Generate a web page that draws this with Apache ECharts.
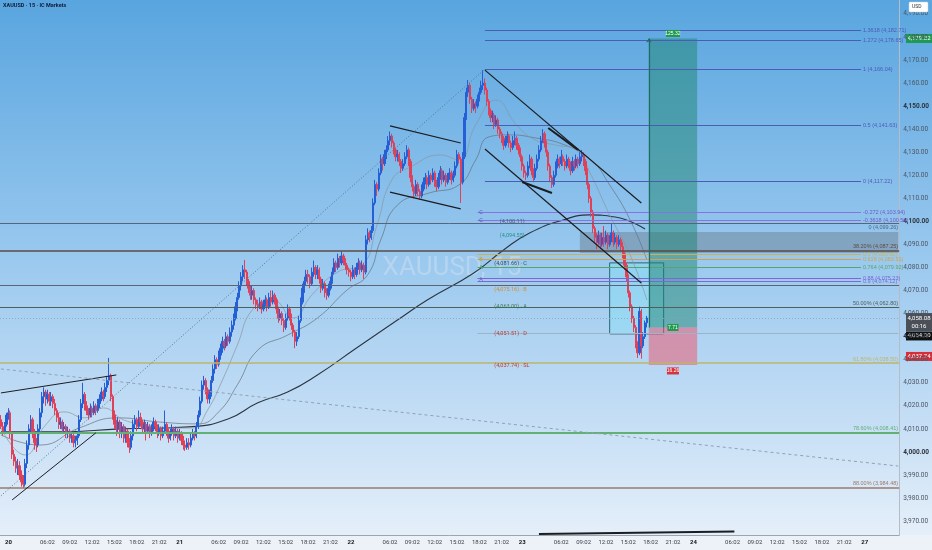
<!DOCTYPE html>
<html lang="en" style="height: 100%">
<head>
  <meta charset="utf-8">
</head>
<body style="height: 100%; margin: 0">
  <div id="container" style="width: 932px; height: 550px"></div>

  <script type="text/javascript" src="https://cdn.jsdelivr.net/npm/echarts@6/dist/echarts.min.js"></script>

  <script type="text/javascript">
    // XAUUSD 15m candles, one value per bar
    const opens = [
      4014,4011,4009,4012,4016,4017,4008,3999,3996,3993,3994,3990,3987,3986,3995,4003,4010,4014,4008,4004,
      4003,4010,4017,4024,4026,4023,4025,4022,4024,4021,4018,4015,4012,4013,4010,4011,4008,4009,4006,4007,
      4004,4005,4007,4014,4021,4025,4020,4018,4016,4019,4017,4020,4018,4021,4023,4026,4024,4028,4031,4033,
      4024,4016,4012,4010,4013,4008,4011,4006,4009,4004,4002,4007,4012,4014,4011,4015,4013,4010,4012,4009,
      4011,4008,4010,4013,4011,4008,4010,4007,4009,4012,4009,4006,4008,4010,4007,4009,4006,4008,4005,4003,
      4002,4004,4003,4006,4008,4007,4011,4016,4022,4029,4031,4027,4023,4025,4031,4036,4040,4038,4042,4045,
      4048,4046,4050,4048,4052,4055,4058,4063,4067,4072,4076,4079,4078,4074,4071,4068,4070,4066,4064,4063,
      4065,4062,4064,4066,4063,4067,4065,4068,4066,4062,4058,4060,4057,4054,4058,4062,4059,4055,4052,4048,
      4050,4057,4065,4071,4074,4077,4076,4073,4078,4080,4077,4079,4075,4071,4073,4069,4068,4071,4074,4078,
      4082,4080,4084,4082,4085,4083,4081,4079,4078,4076,4079,4077,4080,4082,4079,4081,4078,4092,4095,4093,
      4096,4108,4116,4114,4121,4127,4125,4129,4131,4135,4137,4134,4131,4128,4129,4126,4123,4125,4128,4131,
      4126,4119,4115,4112,4116,4113,4111,4114,4117,4119,4116,4120,4118,4121,4117,4115,4119,4122,4118,4120,
      4117,4119,4121,4118,4120,4124,4129,4127,4117,4128,4145,4156,4159,4153,4149,4151,4150,4153,4156,4159,
      4160,4157,4152,4148,4145,4146,4142,4144,4140,4138,4136,4133,4135,4137,4134,4132,4135,4136,4133,4131,
      4128,4124,4121,4120,4124,4127,4122,4119,4123,4127,4131,4135,4138,4134,4130,4124,4119,4116,4120,4124,
      4127,4125,4128,4126,4124,4127,4125,4122,4126,4124,4127,4125,4128,4129,4126,4122,4116,4110,4104,4097,
      4093,4091,4094,4090,4093,4091,4094,4090,4092,4095,4091,4093,4090,4092,4089,4086,4081,4076,4069,4063,
      4058,4054,4047,4043,4061,4046,4050,4056
    ];
    const closes = [
      4011,4009,4012,4016,4017,4008,3999,3996,3993,3994,3990,3987,3986,3995,4003,4010,4014,4008,4004,4003,
      4010,4017,4024,4026,4023,4025,4022,4024,4021,4018,4015,4012,4013,4010,4011,4008,4009,4006,4007,4004,
      4005,4007,4014,4021,4025,4020,4018,4016,4019,4017,4020,4018,4021,4023,4026,4024,4028,4031,4033,4024,
      4016,4012,4010,4013,4008,4011,4006,4009,4004,4002,4007,4012,4014,4011,4015,4013,4010,4012,4009,4011,
      4008,4010,4013,4011,4008,4010,4007,4009,4012,4009,4006,4008,4010,4007,4009,4006,4008,4005,4003,4002,
      4004,4003,4006,4008,4007,4011,4016,4022,4029,4031,4027,4023,4025,4031,4036,4040,4038,4042,4045,4048,
      4046,4050,4048,4052,4055,4058,4063,4067,4072,4076,4079,4078,4074,4071,4068,4070,4066,4064,4063,4065,
      4062,4064,4066,4063,4067,4065,4068,4066,4062,4058,4060,4057,4054,4058,4062,4059,4055,4052,4048,4050,
      4057,4065,4071,4074,4077,4076,4073,4078,4080,4077,4079,4075,4071,4073,4069,4068,4071,4074,4078,4082,
      4080,4084,4082,4085,4083,4081,4079,4078,4076,4079,4077,4080,4082,4079,4081,4078,4092,4095,4093,4096,
      4108,4116,4114,4121,4127,4125,4129,4131,4135,4137,4134,4131,4128,4129,4126,4123,4125,4128,4131,4126,
      4119,4115,4112,4116,4113,4111,4114,4117,4119,4116,4120,4118,4121,4117,4115,4119,4122,4118,4120,4117,
      4119,4121,4118,4120,4124,4129,4127,4117,4128,4145,4156,4159,4153,4149,4151,4150,4153,4156,4159,4160,
      4157,4152,4148,4145,4146,4142,4144,4140,4138,4136,4133,4135,4137,4134,4132,4135,4136,4133,4131,4128,
      4124,4121,4120,4124,4127,4122,4119,4123,4127,4131,4135,4138,4134,4130,4124,4119,4116,4120,4124,4127,
      4125,4128,4126,4124,4127,4125,4122,4126,4124,4127,4125,4128,4129,4126,4122,4116,4110,4104,4097,4093,
      4091,4094,4090,4093,4091,4094,4090,4092,4095,4091,4093,4090,4092,4089,4086,4081,4076,4069,4063,4058,
      4054,4047,4043,4061,4046,4050,4056,4058.08
    ];
    const lows = [
      4010,4007,4008,4011,4014,4006,3997,3994,3991,3990,3988,3985,3984.4,3985,3993,4001,4008,4006,4001,4000,
      4002,4008,4015,4021,4020,4021,4020,4020,4019,4016,4013,4010,4010,4008,4008,4006,4006,4004,4004,4002,
      4002,4003,4006,4013,4019,4018,4016,4014,4015,4015,4016,4016,4017,4019,4022,4022,4023,4026,4029,4022,
      4014,4010,4007,4008,4006,4006,4004,4004,4002,3999.6,4001,4005,4010,4009,4010,4011,4008,4008,4005,4008,
      4006,4007,4009,4009,4006,4007,4005,4006,4008,4007,4004,4005,4007,4005,4006,4004,4005,4003,4001,4000.5,
      4001,4001,4002,4005,4005,4006,4010,4015,4021,4027,4025,4021,4021,4024,4030,4034,4036,4037,4040,4043,
      4044,4045,4046,4047,4050,4053,4057,4061,4066,4070,4074,4075,4072,4069,4066,4066,4064,4062,4061,4062,
      4060,4061,4063,4061,4062,4063,4064,4064,4060,4056,4057,4055,4052,4053,4057,4057,4053,4050,4045,4046,
      4049,4056,4064,4069,4072,4073,4071,4072,4076,4075,4075,4073,4069,4070,4067,4066,4067,4070,4073,4077,
      4078,4079,4080,4081,4081,4079,4077,4076,4074,4075,4075,4076,4079,4077,4078,4075,4077,4090,4091,4092,
      4095,4107,4111,4113,4120,4122,4124,4127,4130,4133,4132,4129,4126,4126,4124,4121,4122,4124,4127,4124,
      4117,4113,4110,4111,4111,4109.5,4110,4113,4116,4114,4115,4116,4117,4115,4113,4114,4118,4116,4117,4115,
      4116,4118,4116,4117,4119,4123,4125,4108,4116,4127,4144,4154,4151,4147,4148,4147,4149,4152,4155,4157,
      4155,4150,4146,4143,4143,4140,4141,4138,4136,4134,4131,4132,4134,4132,4130,4131,4133,4131,4129,4126,
      4122,4119,4118,4119,4123,4120,4117,4118,4122,4126,4130,4134,4132,4128,4122,4117,4114.5,4115,4119,4123,
      4123,4124,4124,4122,4123,4123,4120,4121,4122,4123,4123,4124,4126,4124,4120,4114,4108,4102,4095,4091,
      4088,4090,4088,4089,4089,4090,4088,4089,4091,4089,4090,4088,4089,4087,4084,4079,4074,4067,4061,4056,
      4052,4045,4040.8,4042,4040.5,4045,4049,4054
    ];
    const highs = [
      4016,4013,4013,4017,4019,4018,4009,4001,3998,3997,3996,3992,3990,3997,4005,4012,4016,4015,4010,4006,
      4012,4019,4026,4028,4027,4027,4026,4026,4025,4023,4019,4017,4015,4014,4013,4012,4011,4010,4009,4008,
      4007,4009,4016,4023,4030,4026,4022,4019,4021,4020,4022,4021,4023,4025,4028,4027,4030,4033,4040.8,4034,
      4025,4018,4014,4015,4014,4013,4012,4011,4010,4006,4009,4014,4016,4015,4018,4017,4014,4014,4013,4013,
      4012,4012,4015,4014,4012,4012,4011,4011,4018,4013,4010,4010,4012,4011,4011,4010,4010,4009,4007,4005,
      4006,4006,4008,4010,4009,4013,4018,4024,4031,4033,4032,4028,4027,4033,4038,4042,4041,4044,4047,4050,
      4049,4052,4051,4054,4057,4060,4065,4069,4074,4078,4081,4083.3,4079,4075,4072,4072,4071,4067,4066,4067,
      4066,4066,4068,4067,4069,4070,4070,4069,4067,4063,4062,4061,4058,4060,4064,4063,4060,4056,4053,4052,
      4059,4067,4073,4076,4079,4079,4077,4080,4083,4081,4081,4080,4076,4075,4074,4071,4073,4076,4080,4084,
      4083,4086,4085,4087,4086,4084,4082,4080,4079,4081,4080,4082,4084,4083,4083,4082,4094,4097,4096,4098,
      4110,4118,4117,4123,4129,4128,4131,4133,4137,4139,4138,4135,4132,4131,4130,4127,4127,4130,4133,4132,
      4127,4120,4116,4118,4117,4114,4116,4119,4121,4120,4122,4121,4123,4122,4118,4121,4124,4123,4122,4121,
      4121,4123,4122,4122,4126,4131,4130,4128,4130,4147,4158,4161.3,4160,4154,4153,4152,4155,4158,4161,4165.6,
      4162,4158,4153,4149,4148,4147,4146,4145,4141,4139,4137,4137,4139,4138,4135,4137,4139,4137,4134,4132,
      4129,4125,4122,4126,4129,4128,4123,4125,4129,4133,4137,4140,4139,4135,4131,4125,4120,4122,4126,4129,
      4128,4131,4129,4127,4129,4128,4126,4128,4127,4129,4128,4130,4131,4130,4127,4123,4117,4111,4105,4098,
      4095,4096,4095,4095,4098,4096,4095,4094,4099,4096,4095,4094,4094,4093,4091,4087,4082,4077,4070,4064,
      4059,4055,4048,4063,4062,4052,4057,4059
    ];

    // moving averages, sampled at bar indexes
    const maSlowIdx = [0, 32, 64, 101, 122, 138, 154, 170, 191, 213, 229, 254, 270, 284, 302, 316, 330, 346];
    const maSlow = [4008.7, 4008.7, 4010, 4010.9, 4014.3, 4021.3, 4026, 4033.4, 4045.1, 4057.2, 4065.9, 4077.6, 4087.6, 4095, 4100.6, 4102.8, 4101.9, 4096.7];
    const maMidIdx = [0, 21, 42, 63, 85, 106, 117, 127, 138, 154, 170, 186, 197, 204, 213, 230, 246, 255, 262, 273, 287, 303, 317, 327, 338, 347];
    const maMid = [4007.4, 4003, 4010.4, 4014.8, 4013, 4012.2, 4017.4, 4029.1, 4044.2, 4050.7, 4058.1, 4070.3, 4076.8, 4091.9, 4107.1, 4112.3, 4115.8, 4126.6, 4136.6, 4137.5, 4136.2, 4133.1, 4126.6, 4115.8, 4100.6, 4083.3];
    const maFastIdx = [0, 13, 24, 34, 45, 55, 66, 79, 93, 103, 111, 119, 127, 135, 146, 157, 167, 181, 194, 202, 210, 220, 236, 246, 255, 266, 277, 287, 298, 309, 317, 327, 338, 347];
    const maFast = [4010.4, 3998.7, 4011.7, 4017.4, 4014.8, 4019.1, 4013.9, 4011.7, 4010.4, 4010.4, 4018.2, 4031.2, 4046.4, 4061.6, 4065.9, 4058.1, 4068.1, 4078.1, 4081.1, 4098.4, 4118, 4123.6, 4128.8, 4126.6, 4141.8, 4152.6, 4141.8, 4135.3, 4133.1, 4131, 4120.1, 4102.8, 4085.4, 4065.9];

    // time axis: 92 bars of 15 min per trading day
    const barCount = 483;
    const dayNames = ['20', '21', '22', '23', '24', '27'];
    const dayStartIdx = [4, 96, 188, 280, 372, 464];
    const hourLabels = ['06:02', '09:02', '12:02', '15:02', '18:02', '21:02'];
    const hourOffsets = [21, 33, 45, 57, 69, 81];

    // price axis
    const yMin = 3964, yMax = 4196;

    // fib retracement levels, drawn across the whole chart
    const retraceValues = [4099.26, 4087.25, 4072.40, 4062.80, 4038.50, 4008.41, 3984.48];
    const retraceLabels = ['0 (4,099.26)', '38.20% (4,087.25)', '', '50.00% (4,062.80)', '61.80% (4,038.50)', '78.60% (4,008.41)', '88.00% (3,984.48)'];
    // fib extension levels starting at the swing high
    const extValues = [4182.71, 4178.65, 4166.04, 4141.63, 4117.22, 4103.94, 4100.56];
    const extLabels = ['1.3618 (4,182.71)', '1.272 (4,178.65)', '1 (4,166.04)', '0.5 (4,141.63)', '0 (4,117.22)', '-0.272 (4,103.94)', '-0.3618 (4,100.56)'];
    // harmonic pattern levels
    const harmValues = [4085.60, 4083.51, 4079.92, 4075.23, 4074.12, 4051.51];
    const harmLabels = ['0.5 (4,085.60)', '0.618 (4,083.51)', '0.764 (4,079.92)', '0.88 (4,075.23)', '0.9 (4,074.12)', ''];
    const lastPrice = 4058.08;

    // pattern point labels
    const annIdx = [257, 257, 268, 268, 257, 257, 257, 265, 265, 265, 265, 265];
    const annPrice = [4103.6, 4100.2, 4099.7, 4093.7, 4083.3, 4079.9, 4074.8, 4081.5, 4070.3, 4062.9, 4051.2, 4037.3];
    const annText = ['C', 'C', '(4,100.11)', '(4,094.55)', 'B', 'A', 'A', '(4,081.66) · C', '(4,075.16) · B', '(4,063.00) · A', '(4,051.51) · D', '(4,037.74) · SL'];

    // trend lines: [idx, price] start and end
    const trendStart = [[260, 4165.6], [260, 4131.4], [294, 4140.5], [280, 4117.1], [209, 4141.4], [209, 4112.7], [0, 4025.6], [6, 3979.2], [289, 3964.4]];
    const trendEnd = [[344, 4108.0], [344, 4073.3], [310, 4131.0], [296, 4112.3], [247, 4134.0], [247, 4105.4], [62, 4033.4], [51, 4008.3], [394, 3965.5]];
    const dottedStart = [0, 3981], dottedEnd = [260, 4166];
    const dashedStart = [0, 4036], dashedEnd = [482, 3993.9];

    // long position tool
    const posFrom = 348, posTo = 374;
    const posEntry = 4054.00, posTarget = 4179.32, posStop = 4037.74;
    const posLabels = ['125.32', '7.71', '16.26'];
    // zones
    const grayZone = [[311, 4095.4], [482, 4086.3]];
    const cyanBox = [[327, 4082.0], [356, 4051.2]];

    // right axis price tags
    const tagValues = [4179.32, 4058.08, 4054.00, 4037.74];
    const tagTexts = ['4,179.32', '4,058.08\n00:16', '4,054.00', '4,037.74'];

    var dom = document.getElementById('container');
    var myChart = echarts.init(dom, null, { renderer: 'canvas' });

    const categories = [];
    for (let i = 0; i < barCount; i++) categories.push(String(i));
    const tickText = {};
    dayNames.forEach((d, k) => {
      tickText[dayStartIdx[k]] = '{b|' + d + '}';
      hourLabels.forEach((h, j) => {
        const idx = dayStartIdx[k] + hourOffsets[j];
        if (k < dayNames.length - 1) tickText[idx] = h;
      });
    });

    const bars = opens.map((o, i) => [o, closes[i], lows[i], highs[i]]);
    const pairs = (xs, ys) => xs.map((x, i) => [x, ys[i]]);

    function fmtPrice(v) {
      const parts = v.toFixed(2).split('.');
      return parts[0].replace(/\B(?=(\d{3})+$)/g, ',') + '.' + parts[1];
    }

    const retraceStyle = [
      { color: '#566579', width: 1 },
      { color: '#5b4b46', width: 1.5 },
      { color: '#5a6474', width: 1 },
      { color: '#4f5f5c', width: 1.2 },
      { color: '#bdb56a', width: 1.5 },
      { color: '#62b173', width: 2 },
      { color: '#9b7b6b', width: 1.5 }
    ];
    const retraceLines = retraceValues.map((v, i) => ({
      yAxis: v,
      lineStyle: { color: retraceStyle[i].color, width: retraceStyle[i].width, type: 'solid' },
      label: {
        show: retraceLabels[i] !== '', formatter: retraceLabels[i],
        position: i === 0 ? 'insideEndBottom' : 'insideEndTop',
        fontSize: 5.5, distance: 1, color: retraceStyle[i].color
      }
    }));
    retraceLines.push({
      yAxis: lastPrice,
      lineStyle: { color: '#8aa2b8', width: 1, type: [1, 2], opacity: 0.8 },
      label: { show: false }
    });

    const extLines = extValues.map((v, i) => [
      {
        coord: [i < 5 ? 260 : 256, v],
        lineStyle: { color: i < 5 ? '#4b5cb5' : '#8a6fe6', width: 1, type: 'solid' },
        label: { show: true, formatter: extLabels[i], position: 'end', distance: 2, fontSize: 5.5, color: i < 5 ? '#4b5cb5' : '#6f58c8' }
      },
      { coord: [462, v] }
    ]);
    const harmColors = ['#c9b25a', '#d0a445', '#58a56a', '#7b67d6', '#7b67d6', '#9fb3c6'];
    const harmLines = harmValues.map((v, i) => [
      {
        coord: [256, v],
        lineStyle: { color: harmColors[i], width: 1, type: 'solid' },
        label: { show: harmLabels[i] !== '', formatter: harmLabels[i], position: 'end', distance: 2, fontSize: 5.5, color: harmColors[i] }
      },
      { coord: [i === 5 ? 482 : 462, v] }
    ]);

    const trendWidths = [1.2, 1.2, 2, 2, 1.2, 1.2, 1, 1, 2];
    const trendLines = trendStart.map((s, i) => [
      { coord: s, lineStyle: { color: '#1b1d22', width: trendWidths[i], type: 'solid' } },
      { coord: trendEnd[i] }
    ]);
    trendLines.push([
      { coord: dottedStart, lineStyle: { color: '#557391', width: 1, type: [1, 2] } },
      { coord: dottedEnd }
    ]);
    trendLines.push([
      { coord: dashedStart, lineStyle: { color: '#8ea2b6', width: 1, type: [3, 3] } },
      { coord: dashedEnd }
    ]);
    trendLines.push([
      { coord: [posFrom, posEntry], lineStyle: { color: '#1f6b66', width: 1.2, type: 'solid' }, symbol: 'none' },
      { coord: [posFrom, posTarget], symbol: 'arrow', symbolSize: 4 }
    ]);

    var option = {
      animation: false,
      grid: { left: 0, right: 26, top: 0, bottom: 15 },
      xAxis: {
        type: 'category',
        data: categories,
        boundaryGap: true,
        axisLine: { lineStyle: { color: '#9aa5b1' } },
        axisTick: { show: false },
        splitLine: { show: false },
        axisLabel: {
          interval: function (index) { return tickText[index] !== undefined; },
          formatter: function (value, index) { return tickText[index] || ''; },
          fontSize: 6, color: '#3a3f4a', margin: 4, fontFamily: 'Roboto',
          rich: { b: { fontSize: 6, fontWeight: 'bold', color: '#111', fontFamily: 'Roboto' } }
        }
      },
      yAxis: {
        type: 'value',
        position: 'right',
        min: yMin, max: yMax,
        splitNumber: 23, minInterval: 10, maxInterval: 10,
        axisLine: { show: true, lineStyle: { color: '#b3bdc8' } },
        axisTick: { show: false },
        splitLine: { show: false },
        axisLabel: {
          showMinLabel: false, showMaxLabel: false,
          fontSize: 6.5, color: '#4c5563', margin: 4, fontFamily: 'Roboto',
          formatter: function (v) {
            if (Math.abs(v % 10) > 0.01) return '';
            const s = fmtPrice(v);
            return Math.abs(v % 50) < 0.01 ? '{b|' + s + '}' : s;
          },
          rich: { b: { fontSize: 6.5, fontWeight: 'bold', color: '#2d333c', fontFamily: 'Roboto' } }
        }
      },
      series: [
        {
          name: 'XAUUSD', type: 'candlestick', data: bars, z: 3,
          barWidth: 1.7,
          itemStyle: { color: '#255fd6', color0: '#df4159', borderColor: '#255fd6', borderColor0: '#df4159', borderWidth: 1 }
        },
        {
          name: 'MA slow', type: 'line', data: pairs(maSlowIdx, maSlow), smooth: 0.5, showSymbol: false, z: 3,
          lineStyle: { color: '#2c3640', width: 1.1 }
        },
        {
          name: 'MA mid', type: 'line', data: pairs(maMidIdx, maMid), smooth: 0.5, showSymbol: false, z: 3,
          lineStyle: { color: '#66737f', width: 0.7 }
        },
        {
          name: 'MA fast', type: 'line', data: pairs(maFastIdx, maFast), smooth: 0.5, showSymbol: false, z: 3,
          lineStyle: { color: '#8a96a2', width: 0.7 }
        },
        {
          name: 'levels', type: 'line', data: [], z: 2,
          markLine: {
            silent: true, symbol: ['none', 'none'], animation: false,
            data: retraceLines.concat(extLines, harmLines)
          }
        },
        {
          name: 'zones', type: 'line', data: [], z: 4,
          markArea: {
            silent: true,
            data: [
              [{ coord: grayZone[0], itemStyle: { color: 'rgba(88,94,104,0.33)' } }, { coord: grayZone[1] }],
              [{ coord: cyanBox[0], itemStyle: { color: 'rgba(120,232,250,0.3)', borderColor: '#2b6676', borderWidth: 1 } }, { coord: cyanBox[1] }],
              [{ coord: [posFrom, posTarget], itemStyle: { color: 'rgba(28,132,108,0.48)' } }, { coord: [posTo, posEntry] }],
              [{ coord: [posFrom, posEntry], itemStyle: { color: 'rgba(238,86,108,0.52)' } }, { coord: [posTo, posStop] }]
            ]
          },
          markPoint: {
            silent: true,
            data: [
              { coord: [361, posTarget], symbol: 'rect', symbolSize: [14, 7], symbolOffset: [0, -5], itemStyle: { color: '#21994f' },
                label: { show: true, formatter: posLabels[0], color: '#fff', fontSize: 5, position: 'inside' } },
              { coord: [361, posEntry], symbol: 'rect', symbolSize: [11, 7], itemStyle: { color: '#21994f' },
                label: { show: true, formatter: posLabels[1], color: '#fff', fontSize: 5, position: 'inside' } },
              { coord: [361, posStop], symbol: 'rect', symbolSize: [12, 7], symbolOffset: [0, 6], itemStyle: { color: '#d8323c' },
                label: { show: true, formatter: posLabels[2], color: '#fff', fontSize: 5, position: 'inside' } }
            ]
          }
        },
        {
          name: 'trend', type: 'line', data: [], z: 5,
          markLine: {
            silent: true, symbol: ['none', 'none'], animation: false,
            label: { show: false },
            data: trendLines
          }
        }
      ]
    };

    myChart.setOption(option);

    // overlay elements positioned through the chart's own scales
    const bg = new echarts.graphic.LinearGradient(0, 0, 0, 1, [
      { offset: 0, color: '#59a5df' },
      { offset: 0.45, color: '#97c7ee' },
      { offset: 0.75, color: '#c3ddf5' },
      { offset: 1, color: '#e9f1fa' }
    ]);
    const annColors = ['#5a4fb0', '#5a4fb0', '#44607a', '#23918a', '#c9a040', '#3f8f55', '#6a5fc0', '#3b4b5e', '#d88a2a', '#3f7a55', '#c0392b', '#c0392b'];
    const elements = [
      { type: 'rect', z: -100, silent: true, shape: { x: 0, y: 0, width: 932, height: 550 }, style: { fill: bg } },
      { type: 'rect', z: -90, silent: true, shape: { x: 0, y: 535, width: 932, height: 15 }, style: { fill: '#edf2f8' } },
      { type: 'text', z: 1, silent: true, x: 452, y: 268,
        style: { text: 'XAUUSD, 15', font: '26px Roboto', fill: 'rgba(215,226,240,0.45)', align: 'center', verticalAlign: 'middle' } },
      { type: 'text', z: 50, silent: true, x: 3, y: 6,
        style: { text: 'XAUUSD · 15 · IC Markets', font: 'bold 5.5px Roboto', fill: '#0f1d3a', verticalAlign: 'middle' } },
      { type: 'rect', z: 60, silent: true, shape: { x: 909, y: 2, width: 19, height: 10, r: 1 }, style: { fill: '#ffffff', stroke: '#c8cdd3', lineWidth: 0.5 } },
      { type: 'text', z: 61, silent: true, x: 912, y: 7, style: { text: 'USD', font: '5px Roboto', fill: '#333', verticalAlign: 'middle' } }
    ];

    annText.forEach((t, i) => {
      const p = myChart.convertToPixel({ seriesIndex: 0 }, [annIdx[i], annPrice[i]]);
      elements.push({ type: 'text', z: 40, silent: true, x: p[0], y: p[1],
        style: { text: t, font: '5.5px Roboto', fill: annColors[i], verticalAlign: 'middle' } });
    });

    const tagColors = ['#1f9a52', '#4b5058', '#111111', '#d3303b'];
    const tagHeights = [9, 18, 9, 9];
    const tagAnchor = [4.5, 5, -4, 13];
    tagValues.forEach((v, i) => {
      const y = myChart.convertToPixel({ yAxisIndex: 0 }, v);
      elements.push({
        type: 'group', z: 70, silent: true, x: 906, y: y - tagAnchor[i],
        children: [
          { type: 'rect', shape: { x: 0, y: 0, width: 26, height: tagHeights[i] }, style: { fill: tagColors[i] } },
          { type: 'text', style: { x: 13, y: tagHeights[i] / 2, text: tagTexts[i], font: '6px Roboto', lineHeight: 8,
            fill: '#fff', align: 'center', verticalAlign: 'middle' } }
        ]
      });
    });

    myChart.setOption({ graphic: { elements: elements } });
    window.addEventListener('resize', myChart.resize);
  </script>
</body>
</html>
